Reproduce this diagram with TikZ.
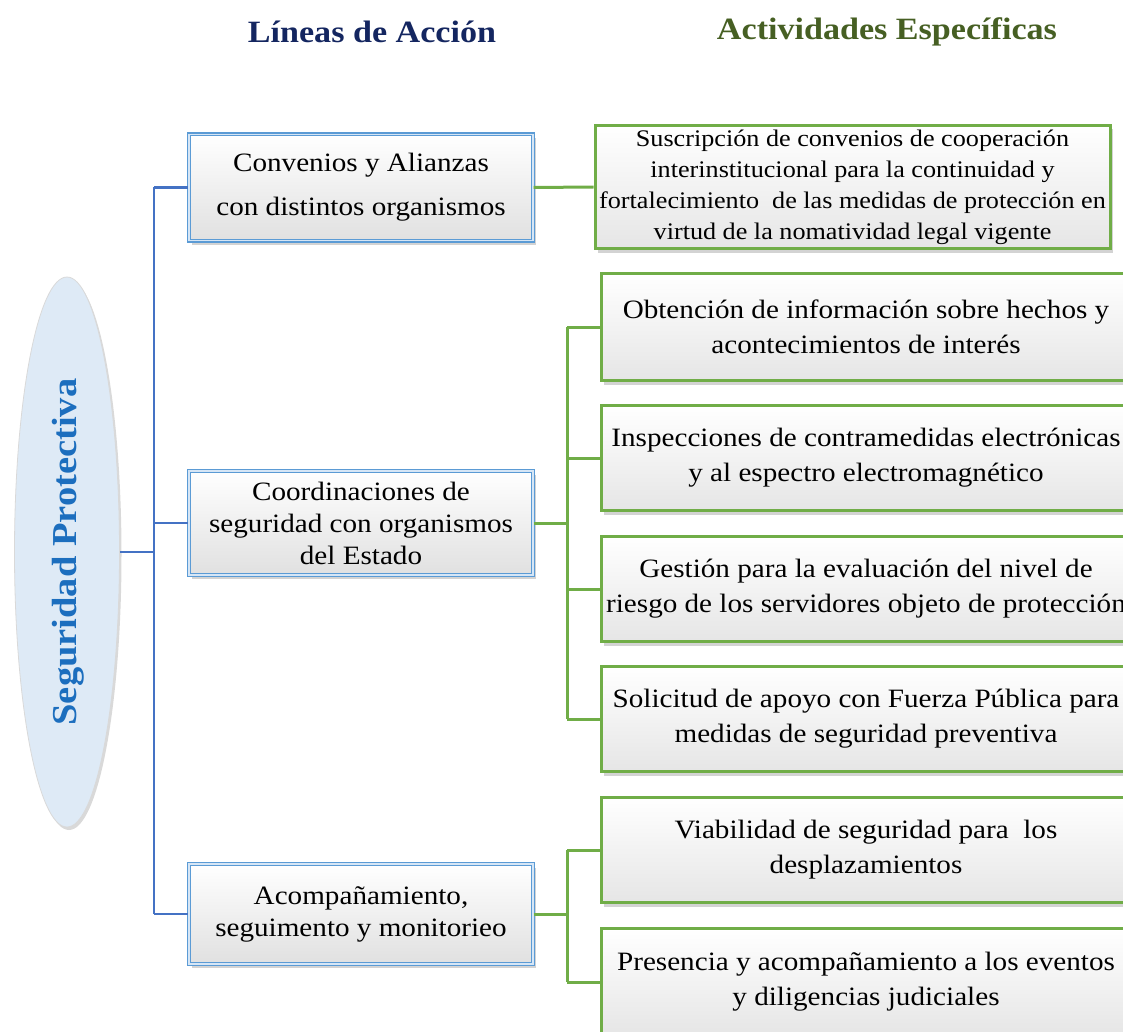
\documentclass[tikz,border=0pt]{standalone}
\usepackage{fontspec}
\setmainfont{Liberation Serif}[FakeStretch=1.1]
\usetikzlibrary{shapes.geometric,shadows}
\definecolor{blueline}{RGB}{68,114,196}
\definecolor{greenline}{RGB}{112,173,71}
\definecolor{bbord}{RGB}{91,155,213}
\definecolor{bgap}{RGB}{214,230,246}
\definecolor{titleblue}{RGB}{20,38,96}
\definecolor{titlegreen}{RGB}{70,95,35}
\definecolor{ellfill}{RGB}{222,234,246}
\definecolor{elltext}{RGB}{28,110,190}
\begin{document}
\begin{tikzpicture}[x=1pt,y=-1pt,
  lineabox/.style={rectangle, draw=bbord, line width=1.2pt, double=bgap, double distance=1.6pt,
    top color=white, bottom color=black!12,
    drop shadow={shadow xshift=3pt,shadow yshift=-4pt,opacity=0.35},
    minimum width=344pt, align=center, inner sep=0pt,
    font=\fontsize{26.5}{32}\selectfont},
  activbox/.style={rectangle, draw=greenline, line width=3pt,
    top color=white, bottom color=black!10,
    drop shadow={shadow xshift=3pt,shadow yshift=-4pt,opacity=0.35},
    minimum width=530pt, align=center, inner sep=0pt,
    font=\fontsize{26.5}{35}\selectfont},
  blink/.style={draw=blueline, line width=2.5pt},
  glink/.style={draw=greenline, line width=3pt},
  titletext/.style={font=\bfseries\fontsize{31}{31}\selectfont}
]
\useasboundingbox (0,0) rectangle (1123,1032);
\clip (0,0) rectangle (1123,1032);

% titles
\node[titletext, text=titleblue] (t1) at (372,32) {Líneas de Acción};
\node[titletext, text=titlegreen] (t2) at (887,32) {Actividades Específicas};

% root ellipse
\node[ellipse, draw=black!15, line width=0.8pt, fill=ellfill, minimum width=105pt, minimum height=550pt,
  drop shadow={shadow xshift=2pt,shadow yshift=-3pt,opacity=0.3}] (ell) at (67,552) {};
\node[rotate=90, text=elltext, font=\bfseries\fontsize{35}{35}\selectfont] (elltxt) at (68,552) {Seguridad Protectiva};

% lines of action
\node[lineabox, minimum height=106pt, font=\fontsize{26.5}{44}\selectfont] (b1) at (361,187.5) {Convenios y Alianzas\\con distintos organismos};
\node[lineabox, minimum height=104pt] (b2) at (361,523) {Coordinaciones de\\seguridad con organismos\\del Estado};
\node[lineabox, minimum height=100pt] (b3) at (361,914) {Acompañamiento,\\seguimento y monitorieo};

% activities
\node[activbox, minimum width=515pt, minimum height=123pt, font=\fontsize{23.8}{31}\selectfont] (g1) at (852.5,187) {Suscripción de convenios de cooperación\\interinstitucional para la continuidad y\\fortalecimiento\ \ de las medidas de protección en\\virtud de la nomatividad legal vigente};
\node[activbox, minimum height=107pt] (g2) at (866,327) {Obtención de información sobre hechos y\\acontecimientos de interés};
\node[activbox, minimum height=105pt] (g3) at (866,458) {Inspecciones de contramedidas electrónicas\\y al espectro electromagnético};
\node[activbox, minimum height=105pt] (g4) at (866,589) {Gestión para la evaluación del nivel de\\riesgo de los servidores objeto de protección};
\node[activbox, minimum height=105pt] (g5) at (866,719) {Solicitud de apoyo con Fuerza Pública para\\medidas de seguridad preventiva};
\node[activbox, minimum height=105pt] (g6) at (866,850) {Viabilidad de seguridad para\ \ los\\desplazamientos};
\node[activbox, minimum height=107pt] (g7) at (866,982) {Presencia y acompañamiento a los eventos\\y diligencias judiciales};

% blue connectors
\coordinate (bt) at (154,552);
\draw[blink] (ell.east) -- (bt);
\draw[blink] (b1.west -| bt) -- (b3.west -| bt);
\draw[blink] (b1.west -| bt) -- (b1.west);
\draw[blink] (b2.west -| bt) -- (b2.west);
\draw[blink] (b3.west -| bt) -- (b3.west);

% green connectors
\draw[glink] (b1.east) -- (g1.west);
\coordinate (gt1) at (567,523);
\draw[glink] (b2.east) -- (gt1);
\draw[glink] (g2.west -| gt1) -- (g5.west -| gt1);
\foreach \n in {g2,g3,g4,g5} \draw[glink] (\n.west -| gt1) -- (\n.west);
\coordinate (gt2) at (567,914);
\draw[glink] (b3.east) -- (gt2);
\draw[glink] (g6.west -| gt2) -- (g7.west -| gt2);
\foreach \n in {g6,g7} \draw[glink] (\n.west -| gt2) -- (\n.west);
\end{tikzpicture}
\end{document}
